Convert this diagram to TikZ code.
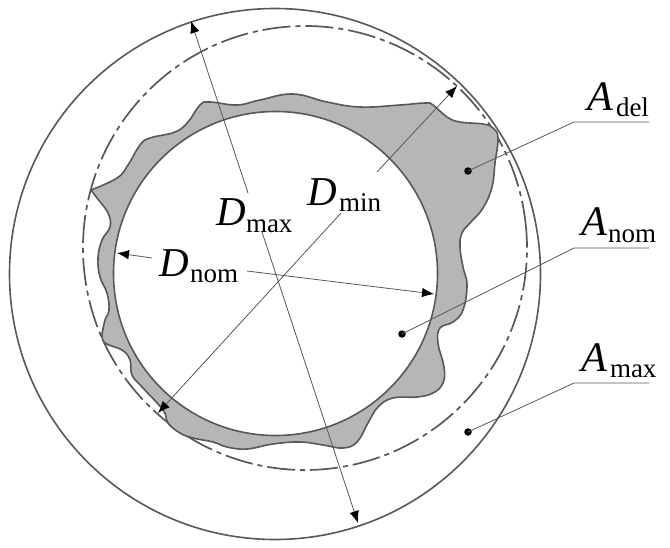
\documentclass[tikz,border=0pt]{standalone}
\usepackage{fontspec}
\setmainfont{Liberation Serif}
\usetikzlibrary{arrows.meta}
\definecolor{ink}{HTML}{585858}
\definecolor{hair}{HTML}{585858}
\definecolor{blob}{HTML}{B6B6B6}
\tikzset{
  x=1pt,y=-1pt,
  ring/.style={draw=ink,line width=1.6pt},
  dashring/.style={draw=ink,line width=1.7pt,dash pattern=on 28pt off 5pt on 5pt off 5pt},
  dimline/.style={draw=hair,line width=0.8pt,-{Latex[length=12pt,width=9.5pt,black]}},
  leader/.style={draw=hair,line width=0.8pt},
  dotmark/.style={circle,fill=black,inner sep=0pt,minimum size=7.5pt},
  lab/.style={anchor=base west,inner sep=0pt,outer sep=0pt},
}
\begin{document}
\begin{tikzpicture}
\useasboundingbox (0,0) rectangle (670,547);
% outer and dash-dot circles
\node[circle,ring,minimum size=531pt,inner sep=0pt] (outer) at (275,274) {};
\node[circle,dashring,minimum size=444pt,inner sep=0pt,rotate=5] (nominal) at (305,248) {};
% irregular area
\path[fill=blob,draw=ink,line width=1.6pt,line join=round]
  plot[smooth,tension=0.7] coordinates {(91,190)(117,178)(128,165)(140,145)(150,138)(175,132)(188,122)(200,105)(210,102)(237,105)(260,100)(293,94)(327,102)(360,107)(400,105)(425,103)(433,105)(447,117)(460,122)(483,124)(493,128)(498,138)(495,163)(492,187)(483,208)(470,223)(462,233)(460,247)(463,267)(467,285)(463,310)(453,322)(440,328)(438,343)(444,367)(443,383)(433,393)(417,397)(393,398)(378,407)(368,423)(357,442)(343,448)(323,445)(300,442)(273,444)(247,449)(227,447)(213,442)(193,438)(180,433)(168,423)(163,410)(143,388)(132,375)(130,360)(122,350)(105,343)(102,334)}
  -- plot[smooth,tension=0.7] coordinates {(102,334)(105,320)(109,310)(107,293)(100,277)(98,258)(102,240)(110,227)(108,213)(97,198)(91,190)}
  -- cycle;
\node[circle,ring,fill=white,minimum size=324pt,inner sep=0pt] (inner) at (275.5,273.5) {};
% labels
\node[lab] (dmaxD) at (216,225) {\fontsize{41}{41}\selectfont\itshape D};
\node[lab] (dmaxS) at (246,232) {\fontsize{27}{27}\selectfont max};
\node[lab] (dminD) at (307,205) {\fontsize{41}{41}\selectfont\itshape D};
\node[lab] (dminS) at (339,211) {\fontsize{27}{27}\selectfont min};
\node[lab] (dnomD) at (159,276) {\fontsize{41}{41}\selectfont\itshape D};
\node[lab] (dnomS) at (190,282) {\fontsize{27}{27}\selectfont nom};
\node[lab] (adelA) at (587,110) {\fontsize{42}{42}\selectfont\itshape A};
\node[lab] (adelS) at (616,116) {\fontsize{27}{27}\selectfont del};
\node[lab] (anomA) at (581,235) {\fontsize{42}{42}\selectfont\itshape A};
\node[lab] (anomS) at (608,242) {\fontsize{27}{27}\selectfont nom};
\node[lab] (amaxA) at (581,371) {\fontsize{42}{42}\selectfont\itshape A};
\node[lab] (amaxS) at (610,377) {\fontsize{27}{27}\selectfont max};
% dimension lines
\coordinate (mxT) at (191,21);  \coordinate (mxa) at (248,193);
\coordinate (mxb) at (262,232); \coordinate (mxB) at (358,523);
\coordinate (mnT) at (457,86);  \coordinate (mna) at (377,172);
\coordinate (mnb) at (341,213); \coordinate (mnB) at (158,413);
\coordinate (nmL) at (117,253); \coordinate (nma) at (152,258);
\coordinate (nmb) at (247,271); \coordinate (nmR) at (434,294);
\draw[dimline] (mxa) -- (mxT);
\draw[dimline] (mxb) -- (mxB);
\draw[dimline] (mna) -- (mnT);
\draw[dimline] (mnb) -- (mnB);
\draw[dimline] (nma) -- (nmL);
\draw[dimline] (nmb) -- (nmR);
% leaders
\node[dotmark] (pdel) at (468,171) {};
\node[dotmark] (pnom) at (402,334) {};
\node[dotmark] (pmax) at (468,432) {};
\coordinate (kdel) at (574,122); \coordinate (edel) at (649,122);
\coordinate (knom) at (574,248); \coordinate (enom) at (649,248);
\coordinate (kmax) at (574,383); \coordinate (emax) at (649,383);
\draw[leader] (pdel.center) -- (kdel) -- (edel);
\draw[leader] (pnom.center) -- (knom) -- (enom);
\draw[leader] (pmax.center) -- (kmax) -- (emax);
\end{tikzpicture}
\end{document}
